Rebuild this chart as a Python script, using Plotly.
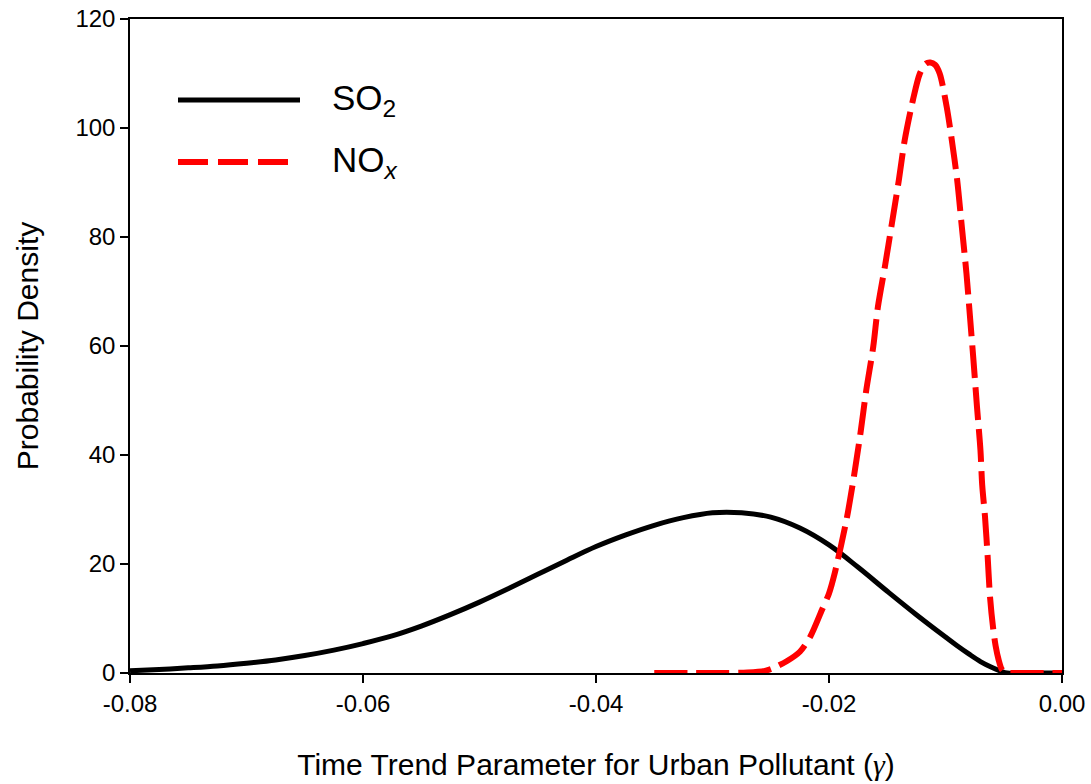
import plotly.graph_objects as go

# Posterior density of the time-trend parameter, SO2
so2_gamma = [-0.0800, -0.0775, -0.0750, -0.0725, -0.0700, -0.0675, -0.0650, -0.0625,
             -0.0600, -0.0575, -0.0550, -0.0525, -0.0500, -0.0475, -0.0450, -0.0425,
             -0.0400, -0.0375, -0.0350, -0.0325, -0.0300, -0.0275, -0.0250, -0.0225,
             -0.0200, -0.0175, -0.0150, -0.0125, -0.0100, -0.0090, -0.0080, -0.0070,
             -0.0060, -0.0052, -0.0047, -0.0030, 0.0000]
so2_density = [0.4, 0.65, 0.95, 1.3, 1.8, 2.4, 3.2, 4.2,
               5.4, 6.8, 8.6, 10.7, 13.0, 15.5, 18.1, 20.7,
               23.2, 25.3, 27.1, 28.5, 29.4, 29.4, 28.6, 26.6,
               23.5, 19.4, 15.0, 10.7, 6.6, 5.0, 3.5, 2.1,
               1.0, 0.3, 0.0, 0.0, 0.0]

# Posterior density of the time-trend parameter, NOx
nox_gamma = [-0.0350, -0.0320, -0.0290, -0.0270, -0.0255, -0.0248, -0.0236, -0.0225,
             -0.0216, -0.0206, -0.0200, -0.0195, -0.0185, -0.0180, -0.0173, -0.0168,
             -0.0162, -0.0158, -0.0152, -0.0146, -0.0140, -0.0135, -0.0128, -0.0122,
             -0.0117, -0.0113, -0.0109, -0.0105, -0.0099, -0.0095, -0.0090, -0.0086,
             -0.0082, -0.0079, -0.0076, -0.0073, -0.0070, -0.00685, -0.00661, -0.00638,
             -0.00618, -0.00590, -0.00570, -0.00545, -0.0052, -0.0049, -0.0045, -0.0030,
             -0.0015, 0.0000]
nox_density = [0.0, 0.0, 0.0, 0.1, 0.4, 0.9, 2.2, 3.9,
               6.7, 11.6, 14.6, 18.4, 28.1, 34.2, 44.0, 51.9,
               59.9, 67.2, 74.6, 82.5, 90.5, 97.8, 105.1, 110.0,
               111.8, 112.0, 111.6, 110.0, 103.9, 98.4, 90.5, 81.9,
               73.3, 65.4, 57.4, 48.9, 40.9, 34.5, 28.7, 21.3,
               14.0, 8.0, 5.0, 2.5, 0.8, 0.1, 0.0, 0.0,
               0.0, 0.0]

x_tick_vals = [-0.08, -0.06, -0.04, -0.02, 0.00]
x_tick_text = ["-0.08", "-0.06", "-0.04", "-0.02", "0.00"]
y_tick_vals = [0, 20, 40, 60, 80, 100, 120]

series_names = ["SO<sub>2</sub>", "NO<sub><i>x</i></sub>"]

FONT = "Liberation Sans, Arial, sans-serif"

fig = go.Figure()
fig.add_trace(go.Scatter(
    x=so2_gamma, y=so2_density, mode="lines", name=series_names[0],
    line=dict(color="black", width=5, shape="spline", smoothing=1.0),
    showlegend=False,
))
fig.add_trace(go.Scatter(
    x=nox_gamma, y=nox_density, mode="lines", name=series_names[1],
    line=dict(color="#ff0000", width=6, dash="33px,9px", shape="spline", smoothing=0.8),
    showlegend=False,
))

# Plot area in pixels: left 130, right 1062, top 19, bottom 673
L, R, T, B = 130, 1062, 19, 673


def px_x(p):
    return (p - L) / (R - L)


def px_y(p):
    return (B - p) / (B - T)


# Legend drawn as sample lines plus labels
legend_shapes = [
    dict(type="line", xref="paper", yref="paper",
         x0=px_x(178), x1=px_x(300), y0=px_y(100), y1=px_y(100),
         line=dict(color="black", width=5)),
    dict(type="line", xref="paper", yref="paper",
         x0=px_x(178), x1=px_x(290), y0=px_y(162), y1=px_y(162),
         line=dict(color="#ff0000", width=6, dash="30px,10px")),
]
legend_labels = [
    dict(text=series_names[0], xref="paper", yref="paper",
         x=px_x(330), y=px_y(100), xanchor="left", yanchor="middle",
         showarrow=False, font=dict(family=FONT, size=35, color="black")),
    dict(text=series_names[1], xref="paper", yref="paper",
         x=px_x(330), y=px_y(162), xanchor="left", yanchor="middle",
         showarrow=False, font=dict(family=FONT, size=35, color="black")),
]

fig.update_layout(
    width=1091, height=784,
    margin=dict(l=L, r=1091 - R, t=T, b=784 - B, autoexpand=False),
    paper_bgcolor="white", plot_bgcolor="white",
    font=dict(family=FONT, color="black"),
    shapes=legend_shapes,
    annotations=legend_labels,
)
fig.update_xaxes(
    range=[-0.08, 0.0], tickvals=x_tick_vals, ticktext=x_tick_text, automargin=False,
    showgrid=False, zeroline=False, showline=True, linecolor="black", linewidth=1.5,
    mirror=True, ticks="outside", ticklen=8, tickwidth=1.5, tickcolor="black",
    tickfont=dict(family=FONT, size=24),
    title=dict(text="Time Trend Parameter for Urban Pollutant (<span style=\"font-family:'Liberation Serif'\"><i>γ</i></span>)",
               font=dict(family=FONT, size=30), standoff=38),
)
fig.update_yaxes(
    range=[0, 120], tickvals=y_tick_vals, automargin=False,
    showgrid=False, zeroline=False, showline=True, linecolor="black", linewidth=1.5,
    mirror=True, ticks="outside", ticklen=8, tickwidth=1.5, tickcolor="black",
    tickfont=dict(family=FONT, size=24),
    title=dict(text="Probability Density", font=dict(family=FONT, size=30), standoff=28),
)

fig.write_html("out.html")
